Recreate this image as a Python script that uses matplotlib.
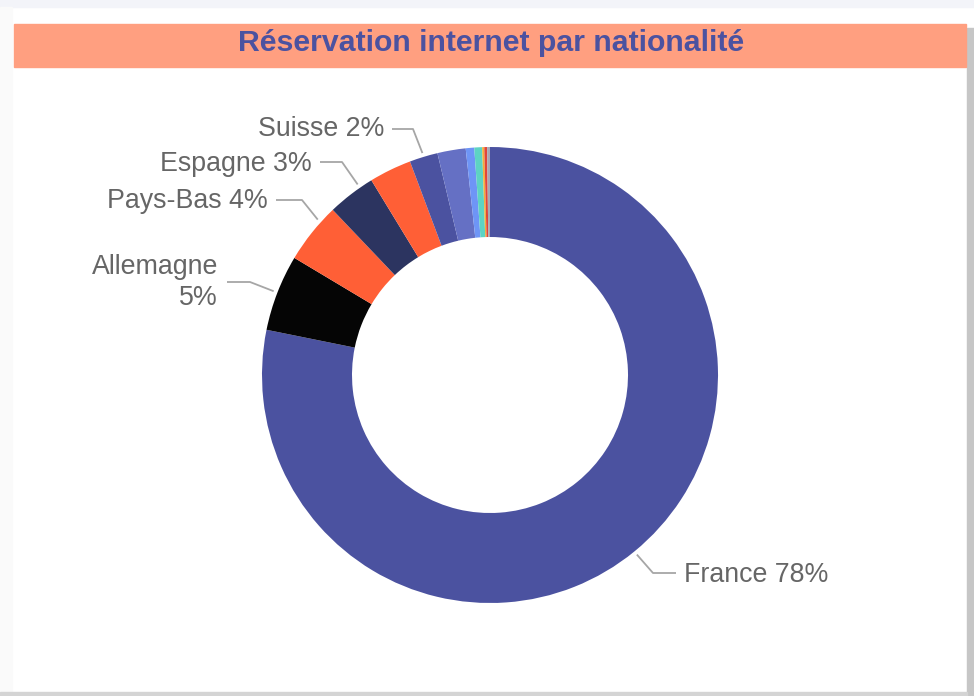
import numpy as np
import matplotlib
matplotlib.use("Agg")
import matplotlib.pyplot as plt
from matplotlib.patches import Rectangle

# ---- data ----
countries = ["France", "Allemagne", "Pays-Bas", "Espagne", "Belgique", "Suisse",
             "Royaume-Uni", "Italie", "États-Unis", "Luxembourg", "Canada", "Autres"]
values = [78.1, 5.4, 4.3, 3.4, 3.0, 2.0, 2.0, 0.6, 0.55, 0.15, 0.2, 0.2]
colors = ["#4B52A0", "#050505", "#FF5F36", "#2C3460", "#FF5F36", "#4B52A0",
          "#6570C4", "#6E95F6", "#5DD3C3", "#F4AE3A", "#E0453A", "#A7A7B5"]
labelled = ["France", "Allemagne", "Pays-Bas", "Espagne", "Suisse"]
title = "Réservation internet par nationalité"

# ---- layout (pixel coordinates, y measured from top) ----
W, H = 974, 696
CX, CY, R, RING = 490, 375, 228, 90
label_layout = {
    # anchor fraction along wedge, elbow, end of horizontal segment, text x, side
    "France":    (0.5, (653, 573), (676, 573), 684, "left"),
    "Allemagne": (0.5, (250, 282), (227, 282), 218, "right"),
    "Pays-Bas":  (0.72, (302, 200), (276, 200), 268, "right"),
    "Espagne":   (0.72, (342, 162), (320, 162), 312, "right"),
    "Suisse":    (0.5, (413, 129), (392, 129), 384, "right"),
}
baselines = {"France": [582], "Allemagne": [274, 305], "Pays-Bas": [208],
             "Espagne": [171], "Suisse": [136]}

def Y(y):
    return H - y

fig = plt.figure(figsize=(W / 100, H / 100), dpi=100)
fig.patch.set_facecolor("white")
ax = fig.add_axes([0, 0, 1, 1])

wedges, _ = ax.pie(values, colors=colors, startangle=90, counterclock=False,
                   radius=R, center=(CX, Y(CY)),
                   wedgeprops=dict(width=RING, edgecolor="none", linewidth=0))
ax.set_xlim(0, W)
ax.set_ylim(0, H)
ax.set_aspect("auto")
ax.axis("off")

# card decoration
ax.add_patch(Rectangle((0, Y(7)), W, 7, color="#F3F4F9", zorder=0))
ax.add_patch(Rectangle((0, 0), 12, Y(7), color="#FAFAFA", zorder=0))
ax.add_patch(Rectangle((967, 0), 7, Y(28), color="#C6C6C6", zorder=0))
ax.add_patch(Rectangle((0, 0), 967, 4, color="#D4D4D4", zorder=0))
ax.add_patch(Rectangle((14, Y(67)), 952, 43, color="#FF9F80", zorder=1))
ax.text(491, Y(51), title, ha="center", va="baseline", fontsize=21.8,
        fontweight="bold", color="#4B52A0",
        family=["Liberation Sans", "DejaVu Sans"], zorder=2)

# labels with leader lines
for w, name, v in zip(wedges, countries, values):
    if name not in labelled:
        continue
    frac, (ex, ey), (hx, hy), tx, side = label_layout[name]
    # pie is drawn clockwise, so theta2 is where the wedge starts
    mid = np.deg2rad(w.theta2 - frac * (w.theta2 - w.theta1))
    ax_x = CX + (R + 4) * np.cos(mid)
    ax_y = Y(CY) + (R + 4) * np.sin(mid)
    ax.plot([ax_x, ex, hx], [ax_y, Y(ey), Y(hy)], color="#A6A6A6", lw=1.3,
            solid_capstyle="butt", zorder=3)
    pct = f"{round(v)}%"
    lines = [name, pct] if len(baselines[name]) == 2 else [f"{name} {pct}"]
    for txt, bl in zip(lines, baselines[name]):
        ax.text(tx, Y(bl), txt, ha=side, va="baseline", fontsize=19.3,
                color="#666666", family=["Liberation Sans", "DejaVu Sans"], zorder=3)

fig.savefig("out.png", dpi=100, facecolor=fig.get_facecolor())
